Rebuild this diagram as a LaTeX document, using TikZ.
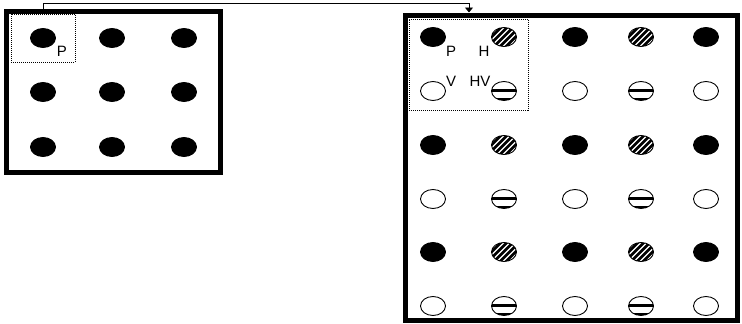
\documentclass[tikz,border=0pt]{standalone}
\usepackage{fontspec}
\setmainfont{Liberation Sans}
\usetikzlibrary{shapes.geometric,arrows.meta}
\begin{document}
\begin{tikzpicture}[x=1pt,y=-1pt,
  dotbase/.style={ellipse, minimum width=25pt, minimum height=19pt, inner sep=0pt, draw=black, line width=0.9pt},
  fulldot/.style={dotbase, fill=black},
  opendot/.style={dotbase, fill=white},
  hatchdot/.style={dotbase, fill=white, path picture={
      \foreach \i in {-36,-30,...,18}{
        \draw[line width=2.6pt] ([xshift=\i pt,yshift=-2pt]path picture bounding box.south) -- ++(22pt,22pt);}}},
  bardot/.style={dotbase, fill=white, path picture={
      \draw[line width=2.4pt] ([yshift=0.5pt]path picture bounding box.west) -- ([yshift=0.5pt]path picture bounding box.east);
      \draw[line width=2pt] ([yshift=2pt]path picture bounding box.south west) -- ([yshift=2pt]path picture bounding box.south east);}},
  frame/.style={draw=black, line width=5pt, rectangle, inner sep=0pt},
  zoombox/.style={draw=black, line width=0.8pt, dash pattern=on 1pt off 1pt, rectangle, inner sep=0pt},
  lbl/.style={font=\fontsize{15}{15}\selectfont, inner sep=0pt},
  conn/.style={draw=black, line width=0.9pt}
]
\useasboundingbox (0,0) rectangle (742,324);
\fill[white] (0,0) rectangle (742,324);
% frames
\node[frame, minimum width=213.5pt, minimum height=161pt] (lframe) at (113.25,92) {};
\node[frame, minimum width=332pt, minimum height=305pt] (rframe) at (571,167.5) {};
% zoom boxes
\node[zoombox, minimum width=64pt, minimum height=48pt] (lzoom) at (43,38) {};
\node[zoombox, minimum width=119pt, minimum height=91pt] (rzoom) at (468.5,64.5) {};
% left dots
\foreach \c/\x in {1/43,2/112,3/184}{
  \foreach \r/\y in {1/38,2/92,3/147}{
    \node[fulldot] (l\r\c) at (\x,\y) {};
  }
}
% right dots
\foreach \c/\x in {1/433,2/504,3/575,4/641,5/706}{
  \foreach \r/\y in {1/37,3/145,5/252}{
    \ifodd\c \node[fulldot] (r\r\c) at (\x,\y) {}; \else \node[hatchdot] (r\r\c) at (\x,\y) {}; \fi
  }
  \foreach \r/\y in {2/91,4/199,6/306}{
    \ifodd\c \node[opendot] (r\r\c) at (\x,\y) {}; \else \node[bardot] (r\r\c) at (\x,\y) {}; \fi
  }
}
% labels
\node[lbl] (lp) at (62,51) {P};
\node[lbl] (rp) at (451,51) {P};
\node[lbl] (rh) at (484,51) {H};
\node[lbl] (rv) at (451,81) {V};
\node[lbl] (rhv) at (480,81) {HV};
% connector
\coordinate (turn) at (469,3);
\draw[conn, -{Triangle[length=5pt,width=8pt]}] (lzoom.north) |- (turn) -- (turn |- rframe.north);
\end{tikzpicture}
\end{document}
